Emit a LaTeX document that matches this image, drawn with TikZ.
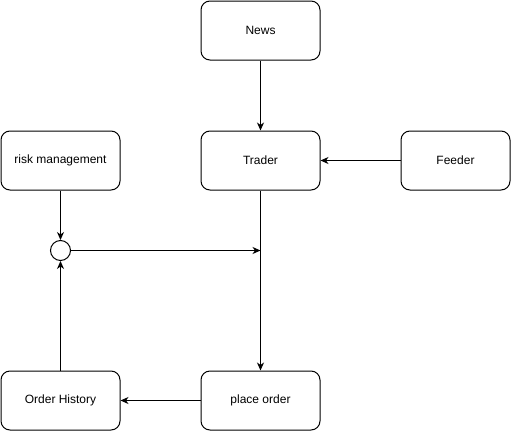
\documentclass[tikz,border=0pt]{standalone}
\usepackage{fontspec}
\setmainfont{Liberation Sans}
\usetikzlibrary{arrows.meta}
\begin{document}
\begin{tikzpicture}[x=1pt,y=-1pt,
  box/.style={draw=black, line width=1pt, rounded corners=9pt, minimum width=119pt, minimum height=59pt, inner sep=0pt, font=\fontsize{12}{14}\selectfont, anchor=north west, fill=white},
  conn/.style={draw=black, line width=1pt, -{Stealth[length=8pt,width=7pt,inset=2.5pt]}},
  junction/.style={draw=black, line width=1pt, circle, minimum size=20pt, inner sep=0pt, fill=white}]
\useasboundingbox (0,0) rectangle (511,431);
\fill[white] (0,0) rectangle (511,431);
\node[box] (news) at (200.5,0.5) {News};
\node[box] (trader) at (200.5,130.5) {Trader};
\node[box, minimum width=109pt] (feeder) at (400.5,130.5) {Feeder};
\node[box] (risk) at (0.5,130.5) {risk management};
\node[box] (hist) at (0.5,370.5) {Order History};
\node[box] (place) at (200.5,370.5) {place order};
\node[junction] (j) at (60.5,250.5) {};
\coordinate (m) at (trader.south |- j);
\draw[conn] (news) -- (trader);
\draw[conn] (feeder) -- (trader);
\draw[conn] (trader) -- (place);
\draw[conn] (place) -- (hist);
\draw[conn] (risk) -- (j);
\draw[conn] (hist) -- (j);
\draw[conn] (j) -- (m);
\end{tikzpicture}
\end{document}
